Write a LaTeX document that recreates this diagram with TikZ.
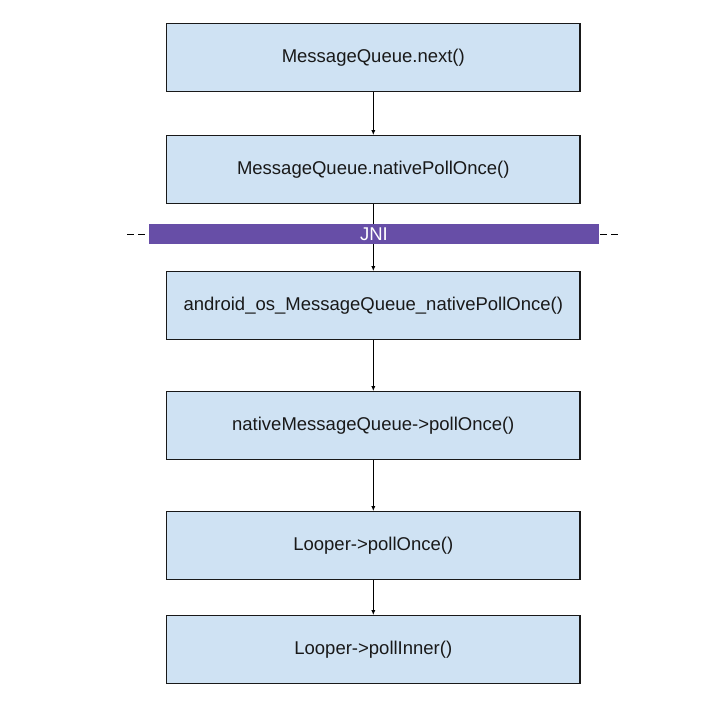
\documentclass[tikz,border=0pt]{standalone}
\usepackage{fontspec}
\setmainfont{Liberation Sans}
\usepackage{xcolor}
\usepackage{tikz}
\usetikzlibrary{arrows.meta,positioning}
\pgfdeclarelayer{bg}
\pgfsetlayers{bg,main}
\definecolor{boxblue}{HTML}{CFE2F3}
\definecolor{jnipurple}{HTML}{674EA7}

\begin{document}
\begin{tikzpicture}[
			x=1pt,y=1pt,
			every node/.style={font=\fontsize{18.5}{22}\selectfont},
			func/.style={draw=black!90,line width=1.3pt,fill=boxblue,text=black!90,minimum width=413.4pt,minimum height=67.7pt,inner sep=0pt},
			jnibar/.style={fill=jnipurple,text=white,minimum width=450pt,minimum height=20pt,inner sep=0pt},
			call/.style={-{Latex[length=5pt,width=4.2pt]},line width=0.8pt}
			]

			\useasboundingbox (0,0) rectangle (725,-709);
			\def\cx{373.3}

			\node[func] (next) at (\cx,-57.5) {MessageQueue.next()};
			\node[func,below=43pt of next] (poll) {MessageQueue.nativePollOnce()};
			\node[func,below=67pt of poll] (jnipoll) {android\_os\_MessageQueue\_nativePollOnce()};
			\node[func,below=51pt of jnipoll] (nmq) {nativeMessageQueue->pollOnce()};
			\node[func,below=51pt of nmq] (lpoll) {Looper->pollOnce()};
			\node[func,below=35pt of lpoll] (linner) {Looper->pollInner()};

			\node[jnibar] (jni) at (374,-234) {JNI};
			\coordinate (dashl) at (127,-234);
			\coordinate (dashr) at (618,-234);

			\draw[call] (next) -- (poll);
			\draw[call] (jnipoll) -- (nmq);
			\draw[call] (nmq) -- (lpoll);
			\draw[call] (lpoll) -- (linner);

			\begin{pgfonlayer}{bg}
			\draw[call] (poll) -- (jnipoll);
			\draw[line width=0.9pt,dash pattern=on 7pt off 4pt] (dashl) -- (dashr);
			\end{pgfonlayer}

			\end{tikzpicture}
\end{document}
